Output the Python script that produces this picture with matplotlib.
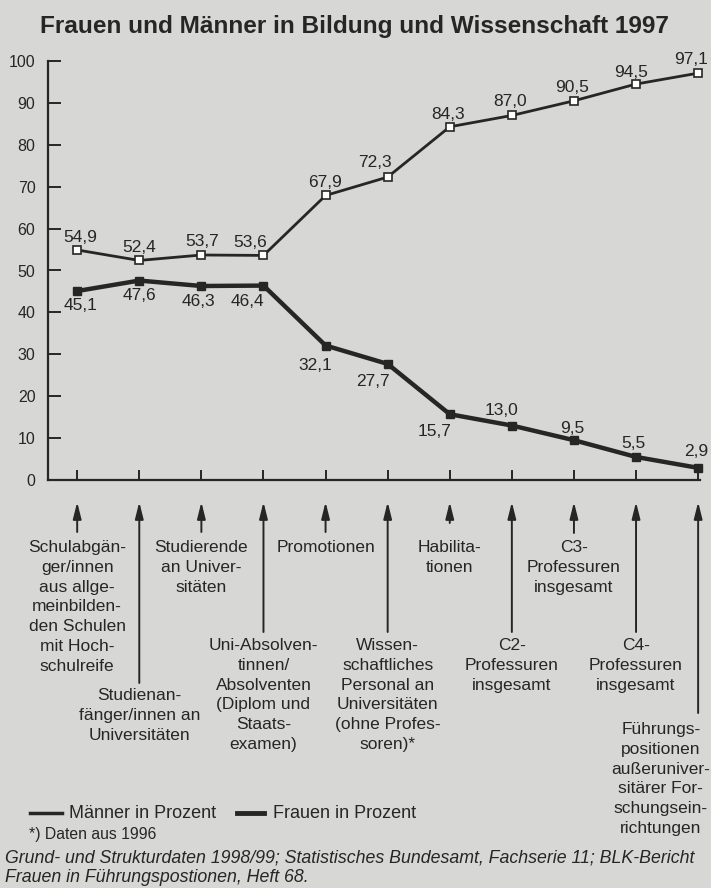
import matplotlib
matplotlib.use("Agg")
import matplotlib.pyplot as plt

plt.rcParams['font.family'] = ['Liberation Sans', 'DejaVu Sans']

# ---------------- data ----------------
categories = [
    "Schulabgän-\nger/innen\naus allge-\nmeinbilden-\nden Schulen\nmit Hoch-\nschulreife",
    "Studienan-\nfänger/innen an\nUniversitäten",
    "Studierende\nan Univer-\nsitäten",
    "Uni-Absolven-\ntinnen/\nAbsolventen\n(Diplom und\nStaats-\nexamen)",
    "Promotionen",
    "Wissen-\nschaftliches\nPersonal an\nUniversitäten\n(ohne Profes-\nsoren)*",
    "Habilita-\ntionen",
    "C2-\nProfessuren\ninsgesamt",
    "C3-\nProfessuren\ninsgesamt",
    "C4-\nProfessuren\ninsgesamt",
    "Führungs-\npositionen\naußeruniver-\nsitärer For-\nschungsein-\nrichtungen",
]
maenner = [54.9, 52.4, 53.7, 53.6, 67.9, 72.3, 84.3, 87.0, 90.5, 94.5, 97.1]
frauen = [45.1, 47.6, 46.3, 46.4, 32.1, 27.7, 15.7, 13.0, 9.5, 5.5, 2.9]
yticks = [0, 10, 20, 30, 40, 50, 60, 70, 80, 90, 100]

title = "Frauen und Männer in Bildung und Wissenschaft 1997"
legend_m = "Männer in Prozent"
legend_f = "Frauen in Prozent"
note = "*) Daten aus 1996"
source = ("Grund- und Strukturdaten 1998/99; Statistisches Bundesamt, Fachserie 11; BLK-Bericht\n"
          "Frauen in Führungspostionen, Heft 68.")

# ---------------- layout ----------------
BG = "#d7d7d5"
INK = "#262626"
W, H = 711, 888

fig = plt.figure(figsize=(W / 100, H / 100), dpi=100, facecolor=BG)
ax_l, ax_r, ax_b, ax_t = 48, 700, 480, 61
ax = fig.add_axes([ax_l / W, 1 - ax_b / H, (ax_r - ax_l) / W, (ax_b - ax_t) / H])
ax.set_facecolor(BG)
ax.patch.set_alpha(0)

x = list(range(len(categories)))
ax.plot(x, maenner, color=INK, lw=2.0, marker='s', ms=6, mfc='white', mec=INK, mew=1.2,
        zorder=3, clip_on=False)
ax.plot(x, frauen, color=INK, lw=3.2, marker='s', ms=5.5, mfc=INK, mec=INK,
        zorder=3, clip_on=False)

ax.set_xlim(-0.47, 10.03)
ax.set_ylim(0, 100)
for s in ['top', 'right']:
    ax.spines[s].set_visible(False)
for s in ['left', 'bottom']:
    ax.spines[s].set_color(INK)
    ax.spines[s].set_linewidth(1.6)
ax.set_yticks(yticks)
ax.set_yticklabels([str(v) for v in yticks])
ax.set_xticks(x)
ax.set_xticklabels([])
ax.tick_params(axis='y', direction='in', length=9, width=1.4, color=INK,
               labelsize=11.5, labelcolor=INK, pad=9)
ax.tick_params(axis='x', direction='in', length=7, width=1.4, color=INK)

def fmt(v):
    return f"{v:.1f}".replace('.', ',')

m_off = [(3, 12), (0, 13), (1, 13), (-13, 13), (-1, 13), (-13, 15),
         (-2, 12), (-2, 14), (-2, 13), (-5, 12), (-7, 14)]
f_off = [(3, -14), (0, -15), (-3, -15), (-16, -16), (-10, -20), (-15, -18),
         (-15, -17), (-10, 15), (-2, 12), (-3, 13), (-2, 16)]
for i, v in enumerate(maenner):
    ax.annotate(fmt(v), (i, v), xytext=m_off[i], textcoords='offset pixels',
                ha='center', va='center', fontsize=12.5, color=INK, annotation_clip=False)
for i, v in enumerate(frauen):
    ax.annotate(fmt(v), (i, v), xytext=f_off[i], textcoords='offset pixels',
                ha='center', va='center', fontsize=12.5, color=INK, annotation_clip=False)

# arrows and category labels below axis
trans = ax.get_xaxis_transform()
def fy(py):
    return (ax_b - py) / (ax_b - ax_t)

arrow_top = 502
arrow_end = [532, 683, 532, 632, 532, 632, 523, 632, 533, 632, 713]
label_y = [550, 698, 550, 648, 550, 648, 550, 648, 550, 648, 732]
label_dx = [0, 0, 0, 0, 0, 0, 0, 0, 0, 0, -0.6]
for i in x:
    ax.annotate('', xy=(i, fy(arrow_top)), xytext=(i, fy(arrow_end[i])),
                xycoords=trans, textcoords=trans, annotation_clip=False,
                arrowprops=dict(arrowstyle='-|>,head_length=1.0,head_width=0.25',
                                color=INK, lw=1.4, shrinkA=0, shrinkB=0))
    ax.text(i + label_dx[i], fy(label_y[i] - 10), categories[i], transform=trans,
            ha='center', va='top', fontsize=12.5, color=INK, linespacing=1.40,
            multialignment='center', clip_on=False)

# title
fig.text(355 / W, 1 - 26 / H, title, ha='center', va='center', fontsize=17.6,
         fontweight='bold', color=INK)

# legend
ly = 1 - 813 / H
fig.add_artist(plt.Line2D([30 / W, 62 / W], [ly, ly], color=INK, lw=2.5))
fig.text(69 / W, ly, legend_m, ha='left', va='center', fontsize=13, color=INK)
fig.add_artist(plt.Line2D([237 / W, 264 / W], [ly, ly], color=INK, lw=3.5))
fig.text(273 / W, ly, legend_f, ha='left', va='center', fontsize=13, color=INK)
fig.text(29 / W, 1 - 834 / H, note, ha='left', va='center', fontsize=11.3, color=INK)

fig.text(5 / W, 1 - 849 / H, source, ha='left', va='top', fontsize=12.8,
         style='italic', color=INK, linespacing=1.2)

fig.savefig("out.png", dpi=100, facecolor=BG)
